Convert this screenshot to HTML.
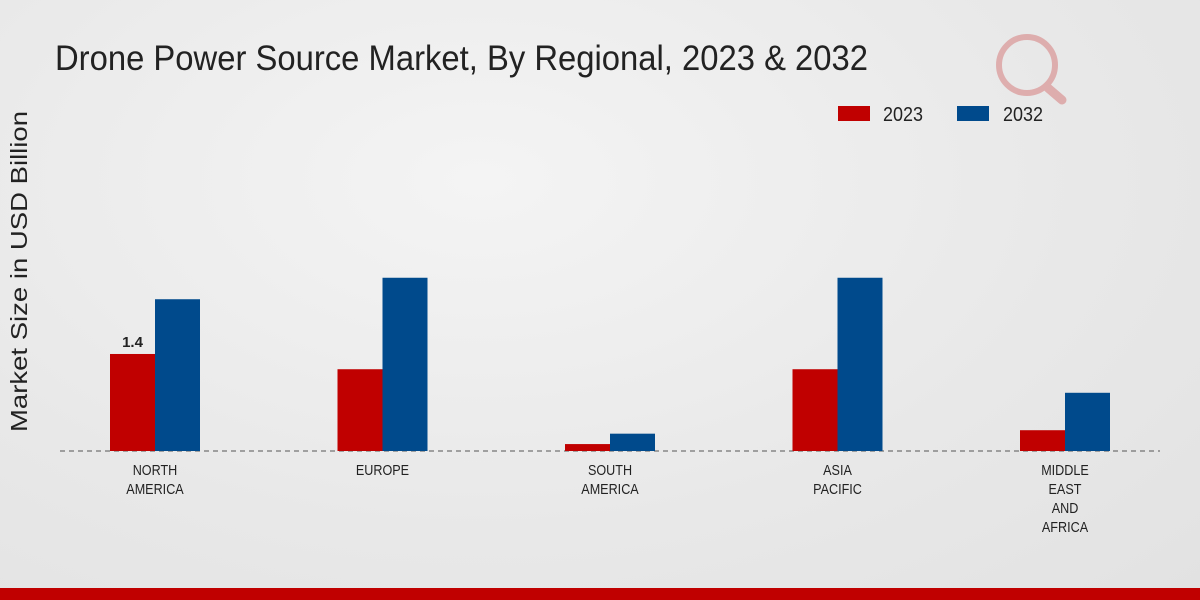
<!DOCTYPE html>
<html><head><meta charset="utf-8"><style>
body{margin:0;width:1200px;height:600px;overflow:hidden;font-family:"Liberation Sans",sans-serif;}
#bg{position:absolute;left:0;top:0;width:1200px;height:600px;background:radial-gradient(ellipse at 40% 30%,#f4f4f4 0%,#e8e8e8 60%,#e2e2e2 100%);}
</style></head><body>
<div id="bg"></div>
<svg id="chart" width="1200" height="600" style="position:absolute;left:0;top:0">
<text x="55" y="70" font-size="35" fill="#222" textLength="813" lengthAdjust="spacingAndGlyphs">Drone Power Source Market, By Regional, 2023 &amp; 2032</text>
<text transform="translate(27,272) rotate(-90)" x="-160" font-size="23" fill="#222" textLength="321" lengthAdjust="spacingAndGlyphs">Market Size in USD Billion</text>
<g>
<rect x="838" y="106" width="32" height="15" fill="#c00000"/>
<text x="883" y="121" font-size="20" fill="#222" textLength="40" lengthAdjust="spacingAndGlyphs">2023</text>
<rect x="957" y="106" width="32" height="15" fill="#004a8c"/>
<text x="1003" y="121" font-size="20" fill="#222" textLength="40" lengthAdjust="spacingAndGlyphs">2032</text>
</g>
<g opacity="0.25">
<circle cx="1027" cy="65" r="28" fill="none" stroke="#c00000" stroke-width="6"/>
<line x1="1048" y1="88" x2="1062" y2="100" stroke="#c00000" stroke-width="9" stroke-linecap="round"/>
</g>
<line x1="60" y1="451" x2="1160" y2="451" stroke="#555" stroke-dasharray="5,4"/>
<g id="bars"></g>
<rect x="0" y="588" width="1200" height="12" fill="#c00000"/>
</svg>
<script>
const categories=[["NORTH","AMERICA"],["EUROPE"],["SOUTH","AMERICA"],["ASIA","PACIFIC"],["MIDDLE","EAST","AND","AFRICA"]];
const values2023=[1.4,1.18,0.1,1.18,0.3];
const values2032=[2.19,2.5,0.25,2.5,0.84];
const labels2023=["1.4","","","",""];
const ns="http://www.w3.org/2000/svg";
const g=document.getElementById("bars");
const base=451,scale=69.3,bw=45;
function xc(i){return 155+i*227.5;}
function yv(v){return base-v*scale;}
function rect(x,v,fill,name){
 const r=document.createElementNS(ns,"rect");
 r.setAttribute("x",x);r.setAttribute("y",yv(v));r.setAttribute("width",bw);r.setAttribute("height",base-yv(v));r.setAttribute("fill",fill);
 
 
 g.appendChild(r);
}
categories.forEach((c,i)=>{
 rect(xc(i)-bw,values2023[i],"#c00000","bar-2023-"+i);
 rect(xc(i),values2032[i],"#004a8c","bar-2032-"+i);
 if(labels2023[i]){
  const t=document.createElementNS(ns,"text");
  t.setAttribute("x",xc(i)-bw/2);t.setAttribute("y",yv(values2023[i])-7);t.setAttribute("text-anchor","middle");
  t.setAttribute("font-size","15");t.setAttribute("font-weight","bold");t.setAttribute("fill","#222");
  t.textContent=labels2023[i];
  
  
  g.appendChild(t);
 }
 c.forEach((line,j)=>{
  const t=document.createElementNS(ns,"text");
  t.setAttribute("x",xc(i));t.setAttribute("y",475+j*19);t.setAttribute("text-anchor","middle");
  t.setAttribute("font-size","15");t.setAttribute("fill","#222");
  t.textContent=line;
  
  
  g.appendChild(t);
  const w=t.getComputedTextLength();
  t.setAttribute("textLength",w*0.84);
  t.setAttribute("lengthAdjust","spacingAndGlyphs");
 });
});
</script>
</body></html>
